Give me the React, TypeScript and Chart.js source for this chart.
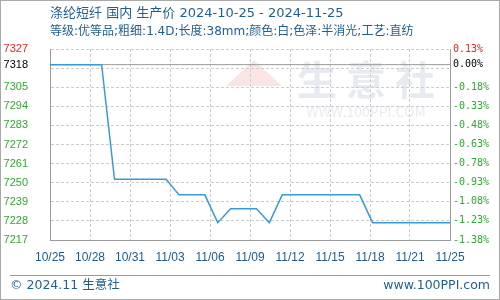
import React, { useEffect, useRef } from 'react';
import { Chart, registerables } from 'chart.js';

Chart.register(...registerables);

// ---- data ----
const dates = [
  '10/25', '10/26', '10/27', '10/28', '10/29', '10/30', '10/31',
  '11/01', '11/02', '11/03', '11/04', '11/05', '11/06', '11/07', '11/08', '11/09', '11/10',
  '11/11', '11/12', '11/13', '11/14', '11/15', '11/16', '11/17', '11/18', '11/19', '11/20',
  '11/21', '11/22', '11/23', '11/24', '11/25',
];
const prices = [
  7318, 7318, 7318, 7318, 7318,
  7252, 7252, 7252, 7252, 7252,
  7243, 7243, 7243,
  7227,
  7235, 7235, 7235,
  7227,
  7243, 7243, 7243, 7243, 7243, 7243, 7243,
  7227, 7227, 7227, 7227, 7227, 7227, 7227,
];
const xTickLabels = ['10/25', '10/28', '10/31', '11/03', '11/06', '11/09', '11/12', '11/15', '11/18', '11/21', '11/25'];
const baseValue = 7318;
const yMin = 7217;
const yMax = 7327;
const gridValues = [7217, 7228, 7239, 7250, 7261, 7272, 7283, 7294, 7305, 7316, 7327];
const leftTickValues = [7327, 7318, 7305, 7294, 7283, 7272, 7261, 7250, 7239, 7228, 7217];
const rightTickLabels = ['0.13%', '0.00%', '-0.18%', '-0.33%', '-0.48%', '-0.63%', '-0.78%', '-0.93%', '-1.08%', '-1.23%', '-1.38%'];
const titleText = '涤纶短纤 国内 生产价 2024-10-25 - 2024-11-25';
const subtitleText = '等级:优等品;粗细:1.4D;长度:38mm;颜色:白;色泽:半消光;工艺:直纺';
const footerLeft = '© 2024.11 生意社';
const footerRight = 'www.100PPI.com';

const TXT = '"DejaVu Sans", "Noto Sans CJK SC", sans-serif';
const CJK = '"Noto Sans CJK SC", "Noto Sans", sans-serif';
const BLUE_TEXT = '#1f5f8f';
const RED = '#ee2222';
const GREEN = '#2eaa2e';
const AXIS = '#999999';
const GRID = '#cccccc';

const decorPlugin = {
  id: 'decor',
  beforeDraw(chart: any) {
    const { ctx, width, height } = chart;
    ctx.save();
    ctx.fillStyle = '#ffffff';
    ctx.fillRect(0, 0, width, height);
    // watermark
    ctx.fillStyle = 'rgba(195,205,220,0.4)';
    ctx.font = `bold 40px ${CJK}`;
    ctx.textAlign = 'center';
    ctx.textBaseline = 'middle';
    ctx.fillText('生 意 社', 366, 80);
    ctx.font = `14px ${CJK}`;
    ctx.fillText('WWW.100PPI.COM', 366, 112);
    ctx.fillStyle = 'rgba(235,120,120,0.2)';
    ctx.beginPath();
    ctx.moveTo(254, 60);
    ctx.lineTo(282, 86);
    ctx.lineTo(226, 86);
    ctx.closePath();
    ctx.fill();
    ctx.restore();
  },
  afterDraw(chart: any) {
    const { ctx, width, height } = chart;
    ctx.save();
    ctx.fillStyle = BLUE_TEXT;
    ctx.textBaseline = 'middle';
    ctx.textAlign = 'left';
    ctx.font = `13px ${TXT}`;
    ctx.fillText(titleText, 50, 14);
    ctx.font = `12px ${TXT}`;
    ctx.fillText(subtitleText, 50, 32);
    ctx.font = `12.5px ${TXT}`;
    ctx.fillText(footerLeft, 10, 286);
    ctx.textAlign = 'right';
    ctx.fillText(footerRight, 490, 286);
    // footer separator
    ctx.strokeStyle = AXIS;
    ctx.lineWidth = 1;
    ctx.beginPath();
    ctx.moveTo(10, 275.5);
    ctx.lineTo(490, 275.5);
    ctx.stroke();
    // outer frame
    ctx.strokeStyle = '#aaaaaa';
    ctx.strokeRect(0.5, 0.5, width - 1, height - 1);
    ctx.restore();
  },
};

const yTicksBuilder = (scale: any) => {
  const vals = Array.from(new Set([...gridValues, baseValue])).sort((a, b) => a - b);
  scale.ticks = vals.map((v) => ({ value: v }));
};

const tickColor = (c: any) => {
  const v = c.tick ? c.tick.value : null;
  if (v === yMax) return RED;
  if (v === baseValue) return '#000000';
  return GREEN;
};

export default function App() {
  const ref = useRef<HTMLCanvasElement | null>(null);
  useEffect(() => {
    if (!ref.current) return;
    const points = prices.map((v, i) => ({ x: i, y: v }));
    const basePoints = dates.map((_, i) => ({ x: i, y: baseValue }));
    const lastX = dates.length - 1;
    const chart = new Chart(ref.current, {
      type: 'line',
      data: {
        datasets: [
          {
            data: points,
            borderColor: '#3a9ad8',
            borderWidth: 1.5,
            pointRadius: 0,
            tension: 0,
            fill: false,
            order: 1,
          },
          {
            data: basePoints,
            borderColor: '#999999',
            borderWidth: 1,
            pointRadius: 0,
            tension: 0,
            fill: false,
            order: 2,
          },
        ],
      },
      options: {
        animation: false,
        responsive: false,
        devicePixelRatio: 1,
        layout: { padding: { top: 49, left: 0, right: 0, bottom: 0 } },
        plugins: { legend: { display: false }, tooltip: { enabled: false }, title: { display: false } },
        events: [],
        scales: {
          x: {
            type: 'linear',
            min: 0,
            max: lastX,
            afterBuildTicks: (scale: any) => {
              scale.ticks = xTickLabels.map((_, k) => ({ value: (lastX * k) / (xTickLabels.length - 1) }));
            },
            afterFit: (scale: any) => {
              scale.height = 60;
              scale.paddingLeft = 0;
              scale.paddingRight = 0;
            },
            grid: {
              drawTicks: false,
              lineWidth: 1,
              color: (c: any) => (c.index === 0 || c.index === xTickLabels.length - 1 ? 'rgba(0,0,0,0)' : GRID),
            },
            border: { display: true, color: AXIS, width: 1, dash: [3, 2] },
            ticks: {
              autoSkip: false,
              maxRotation: 0,
              minRotation: 0,
              padding: 10,
              color: '#1d5a8a',
              font: { family: '"Liberation Sans", Arial, sans-serif', size: 12 },
              callback: (_v: any, i: number) => xTickLabels[i],
            },
          },
          y: {
            type: 'linear',
            position: 'left',
            min: yMin,
            max: yMax,
            afterBuildTicks: yTicksBuilder,
            afterFit: (scale: any) => {
              scale.width = 50;
              scale.paddingTop = 0;
              scale.paddingBottom = 0;
            },
            grid: {
              drawTicks: false,
              lineWidth: 1,
              color: (c: any) => {
                const v = c.tick ? c.tick.value : null;
                if (v === baseValue || v === yMin) return 'rgba(0,0,0,0)';
                return GRID;
              },
            },
            border: { display: true, color: AXIS, width: 1, dash: [3, 2] },
            ticks: {
              autoSkip: false,
              padding: 22,
              color: tickColor,
              font: { family: '"Liberation Sans", Arial, sans-serif', size: 11 },
              callback: (v: any) => (leftTickValues.includes(v) ? String(v) : ''),
            },
          },
          y2: {
            type: 'linear',
            position: 'right',
            min: yMin,
            max: yMax,
            afterBuildTicks: yTicksBuilder,
            afterFit: (scale: any) => {
              scale.width = 50;
              scale.paddingTop = 0;
              scale.paddingBottom = 0;
            },
            grid: { drawOnChartArea: false, drawTicks: false },
            border: { display: true, color: AXIS, width: 1 },
            ticks: {
              autoSkip: false,
              padding: 3,
              color: tickColor,
              font: { family: '"DejaVu Sans Mono", monospace', size: 10 },
              callback: (v: any) => {
                const idx = leftTickValues.indexOf(v);
                return idx >= 0 ? rightTickLabels[idx] : '';
              },
            },
          },
        },
      },
      plugins: [decorPlugin],
    } as any);
    return () => chart.destroy();
  }, []);
  return (
    <div style={{ position: 'fixed', left: 0, top: 0, width: 500, height: 300 }}>
      <canvas ref={ref} width={500} height={300} style={{ display: 'block', width: 500, height: 300 }} />
    </div>
  );
}
